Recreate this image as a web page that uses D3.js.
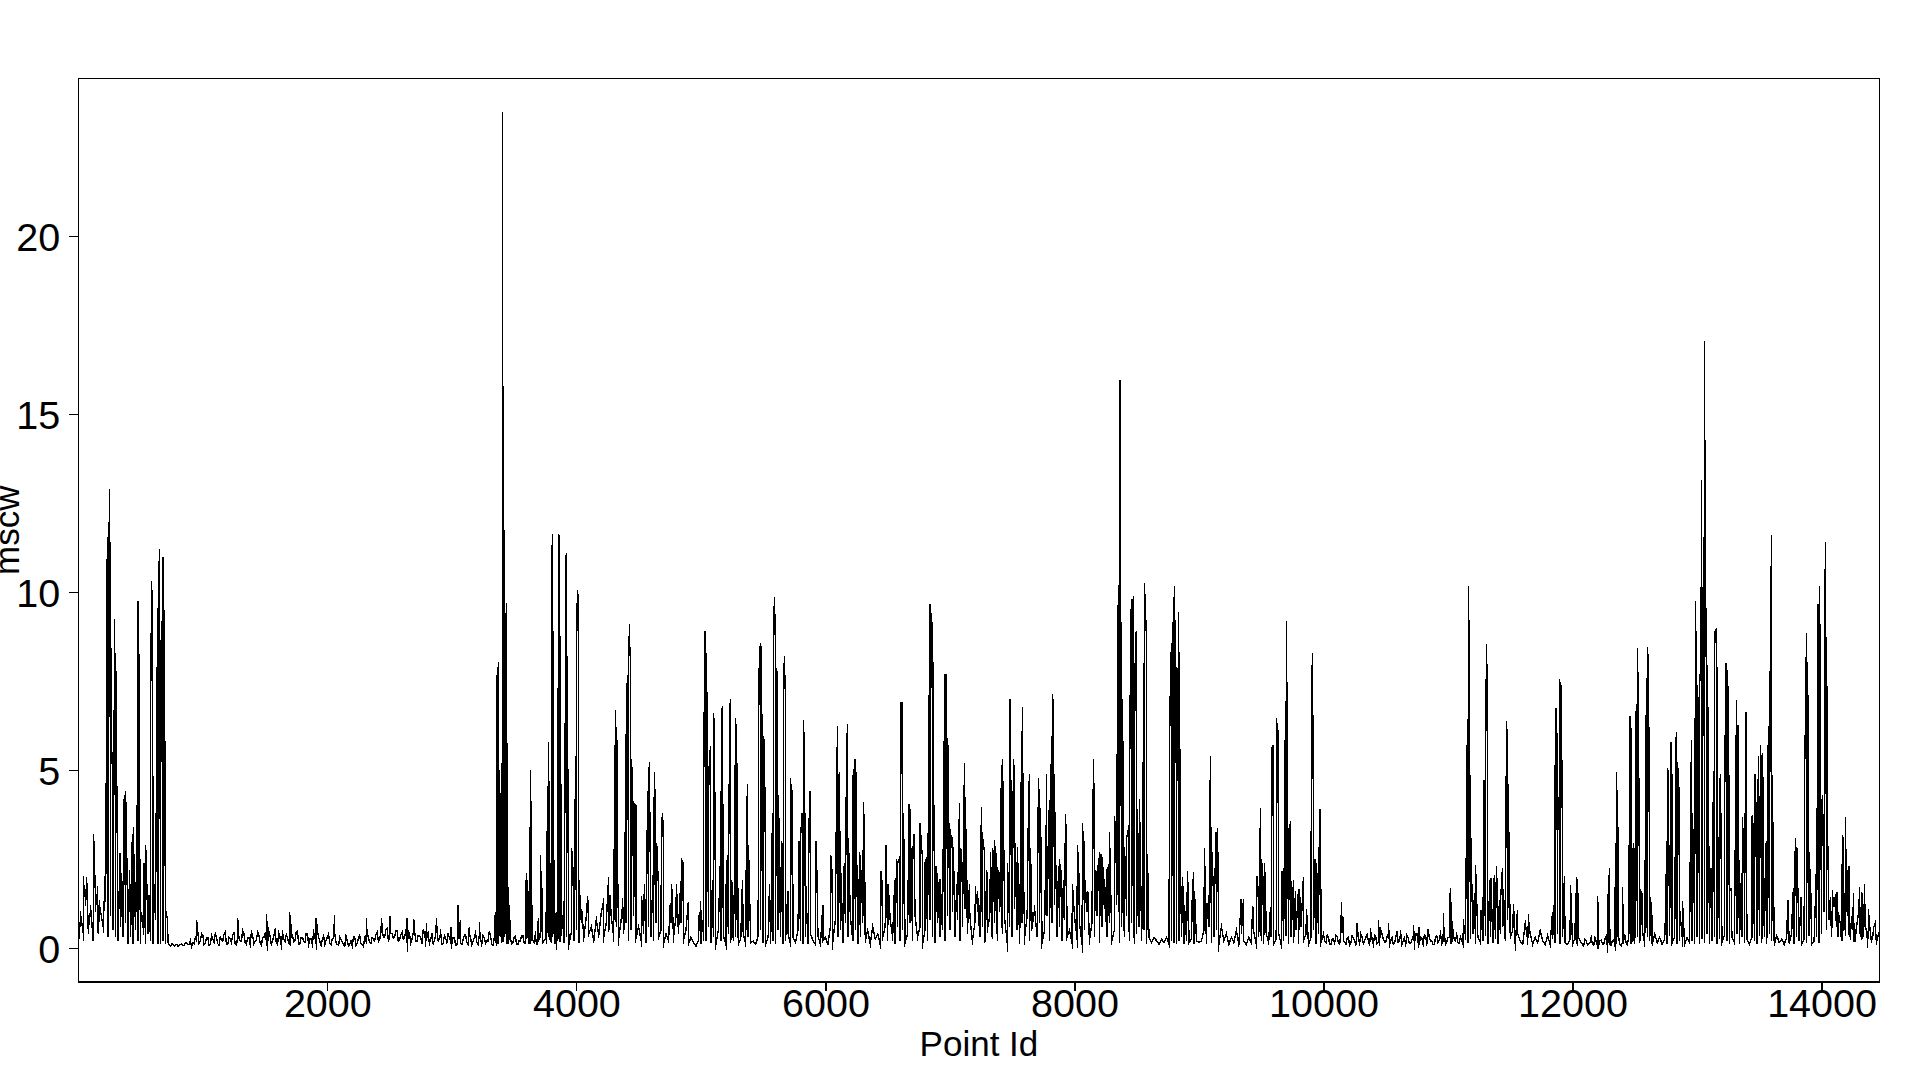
<!DOCTYPE html>
<html><head><meta charset="utf-8">
<script src="https://cdn.jsdelivr.net/npm/d3@7"></script>
<style>html,body{margin:0;background:#fff}svg{display:block}text{font-family:"Liberation Sans",Arial,sans-serif;fill:#000}</style>
</head><body><svg id="c" width="1920" height="1080"></svg>
<script>
const xTicks=[2000,4000,6000,8000,10000,12000,14000];
const yTicks=[0,5,10,15,20];
const xLabel="Point Id", yLabel="mscw";

// low-level signal, one reading every 20 point ids, one list per 1000 ids
const base0=[.1,.9,.4,1.3,.5,1.1,.2,1.2,.4,1,.6,1.3,.3,.9,.5,.3,.2,.6,.3,.7,.1,.3,.1,.5,.2,.1,.6,.1,.4,.2,.1,.8,.1,.1,.2,.1,.15,.05,.1,.08,.05,.1,.07,.15,.1,.2,.15,.3,.45,.2];
const base1=[.35,.15,.3,.1,.25,.4,.12,.3,.2,.45,.1,.25,.38,.12,.3,.2,.5,.15,.3,.1,.35,.2,.45,.15,.28,.4,.12,.33,.2,.5,.1,.3,.42,.18,.28,.1,.35,.2,.48,.12,.3,.15,.4,.25,.1,.32,.5,.18,.25,.1];
const base2=[.3,.12,.25,.4,.1,.3,.18,.05,.2,.1,.06,.3,.15,.35,.1,.28,.4,.15,.3,.2,.45,.22,.5,.3,.55,.25,.4,.3,.5,.22,.45,.3,.18,.4,.25,.5,.2,.35,.15,.45,.3,.12,.4,.2,.5,.25,.1,.35,.15,.3];
const base3=[.12,.3,.08,.25,.1,.35,.15,.4,.1,.28,.18,.35,.1,.3,.2,.45,.12,.25,.1,.35,.15,.3,.1,.22,.12,.3,.1,.2,.35,.15,.25,.1,.2,.15,.1,.25,.45,.2,.1,.3,.15,.4,.1,.25,.5,.15,.3,.1,.45,.2];
const base4=[.5,.15,.7,.3,.9,.4,.6,.2,.8,.35,1,.3,.7,.45,.9,.3,.6,.25,.8,.4,.7,.2,.5,.9,.3,.6,.2,.4,.15,.6,.3,.2,.7,.3,.5,.1,.4,.2,.7,.3,.9,.4,.7,.2,.5,.1,.3,.15,.05,.2];
const base5=[.1,.4,.2,.6,.15,.3,.1,.5,.2,.35,.1,.4,.15,.2,.3,.1,.25,.4,.1,.3,.15,.2,.1,.35,.5,.15,.1,.3,.1,.2,.1,.5,.3,.1,.2,.4,.1,.3,.15,.5,.2,.1,.3,.1,.4,.2,.1,.35,.1,.2];
const base6=[.3,.1,.6,.2,.8,.3,.5,.15,.7,.3,.9,.2,.5,.1,.3,.7,.2,.5,.1,.6,.25,.4,.1,.3,.6,.2,.8,.3,.1,.6,.2,.5,.15,.4,.7,.2,.9,.3,.6,.1,.5,.2,.8,.3,.15,.7,.3,.5,.2,.9];
const base7=[.5,1,.3,.8,.2,.6,1.1,.4,.9,.2,.7,1.2,.3,.6,.15,.5,.9,.25,.7,.2,1,.4,.8,.15,.6,.3,1.1,.5,.1,.7,.3,.9,.2,.6,1.1,.3,.7,.15,.5,.9,.2,.7,1.2,.3,.6,.2,.8,.3,.5,.15];
const base8=[.9,.3,.7,.15,.5,1,.2,.7,.3,.9,.15,.6,1.1,.3,.7,.2,.5,1.2,.15,.6,.3,.9,.2,.7,.1,.4,.6,.2,.5,.1,.3,.15,.3,.2,.1,.25,.15,.3,.1,.2,.15,.1,.2,.3,.1,.2,.15,.25,.1,.2];
const base9=[.15,.2,.5,.1,.6,.15,.3,.5,.1,.6,.2,.4,.1,.3,.15,.5,.1,.4,.2,.1,.3,.15,.45,.1,.3,.2,.1,.4,.15,.3,.1,.25,.4,.1,.2,.35,.1,.3,.15,.5,.1,.6,.2,.4,.1,.3,.5,.1,.4,.15];
const base10=[.4,.15,.3,.1,.25,.35,.15,.45,.2,.1,.3,.15,.28,.1,.25,.4,.12,.3,.2,.45,.1,.3,.15,.5,.25,.15,.38,.2,.1,.3,.15,.42,.2,.1,.3,.12,.25,.4,.15,.3,.1,.35,.5,.2,.1,.3,.15,.4,.2,.1];
const base11=[.3,.12,.4,.2,.15,.3,.1,.35,.15,.25,.4,.1,.3,.15,.2,.35,.1,.3,.15,.25,.1,.4,.6,.2,.8,.3,.5,.1,.4,.2,.1,.7,.2,.4,.1,.3,.15,.5,.2,.1,.35,.1,.25,.15,.4,.1,.3,.15,.1,.25];
const base12=[.1,.3,.05,.2,.1,.25,.08,.15,.1,.3,.05,.2,.12,.25,.05,.1,.2,.08,.3,.1,.15,.35,.1,.4,.2,.1,.3,.15,.5,.1,.3,.2,.1,.4,.15,.3,.1,.25,.1,.35,.15,.3,.1,.2,.35,.1,.3,.15,.2,.1];
const base13=[.3,.1,.25,.15,.4,.1,.2,.3,.1,.25,.15,.35,.2,.1,.3,.15,.4,.1,.3,.15,.25,.1,.3,.2,.1,.35,.15,.3,.1,.4,.2,.1,.35,.15,.25,.1,.3,.15,.4,.1,.3,.2,.1,.25,.15,.35,.1,.2,.3,.15];
const base14=[.4,1,.5,.8,.3,1.2,.6,.9,.2,.7,1,.4,.8,.2,.6,1.1,.3,.7,.5,.9,.2,.6,.15,.45];
const baseLists=[base0,base1,base2,base3,base4,base5,base6,base7,base8,base9,base10,base11,base12,base13,base14];

// extra in-between readings in the quiet stretches: [first id, values every 20 ids]
const quietA=[.08,.12,.05,.1,.06,.12,.08,.15,.1,.05,.12,.22,.12,.4,.1,.28,.08,.35,.15,.3,.08,.22,.38,.1,.3,.15,.42,.08,.28,.18,.4,.1,.3,.45,.12,.22,.36,.08,.3,.2,.48,.1,.33,.15,.42,.08,.26,.38,.12,.3,.18,.46,.1,.3,.2,.4,.1,.25,.45,.12,.3,.08,.35,.22,.4,.1,.3,.15,.08,.24,.1,.35,.06,.2,.32,.08,.28,.12,.05,.2,.3,.12,.24,.38,.18,.45,.3,.52,.2,.42,.28,.5,.18,.38,.24,.48,.3,.15,.42,.2,.36,.28,.5,.16,.4,.25,.12,.38,.2,.44,.12,.28,.4,.18,.3,.08,.32,.15,.24,.38,.1,.28,.18,.42,.1,.26,.34,.12,.2,.36,.08,.22,.1,.3,.16,.4,.12,.26,.15,.34,.1,.2,.36,.14,.28,.1,.22,.38,.12,.3,.15,.25,.42,.16,.3,.1,.4,.18];
const quietB=[.2,.36,.1,.26,.14,.32,.1,.42,.18,.28,.08,.34,.2,.46,.12,.3,.2,.38,.1,.26,.36,.12,.22,.4,.18,.32,.08,.3,.14,.44,.2,.1,.28,.36,.12,.24,.1,.4,.16,.26,.38,.12,.3,.2,.1,.34,.22,.12,.42,.16,.3,.1,.24,.38,.14];
const quietC=[.2,.1,.28,.14,.06,.2,.12,.3,.08,.18,.06,.22,.1,.32,.14,.08,.24,.12,.3,.06,.2,.14,.28,.1,.22];
const quietD=[.3,.7,.2,.5,.9,.3,.6,.2,.8,.4,.25,.6,.15,.5,.3,.7];
const quietStarts=[730,10010,12010,14130];
const quietLists=[quietA,quietB,quietC,quietD];

// individual spikes as [point id, mscw]
const spikesA=[[40,1.9],[67,2],[123,3.2],[155,1.6],[171,1.2],[217,2.1],[233,11.56],[241,10.2],[252,12.9],[260,8.85],[270,5.2],[278,5.2],[292,9.24],[300,8.3],[335,2.66],[348,2.1],[369,4.3],[380,4.4],[388,2.9],[412,2.2],[434,3.2],[442,3.4],[450,1.8],[474,4.25],[479,9.76],[485,8.9],[495,1.8],[503,1],[527,2.4],[541,2.9],[551,1.7],[568,1.5],[581,6.9],[589,10.3],[597,8.9],[605,1.9],[637,9.55],[645,10.4],[653,11.2],[661,6.8],[669,9.2],[680,11],[685,10],[693,7.7],[701,1.07],[717,.8]];
const spikesB=[[950,.8],[1280,.85],[1512,.95],[1700,.9],[1705,.85],[1910,.85],[2059,.93],[2315,.6],[2436,.85],[2502,.9],[2640,.85],[2697,.8],[2797,.7],[2878,.85],[2993,.6],[3050,1.2],[3068,.8],[3138,.5],[3223,.5]];
const spikesC=[[3349,1],[3360,6.2],[3365,7.9],[3373,8.05],[3381,5],[3397,4.7],[3404,.3],[3406,23.5],[3409,.4],[3412,15.8],[3419,10.35],[3427,9.4],[3437,9.7],[3443,5.75],[3451,1.7],[3462,1.2],[3590,1.9],[3601,2.1],[3614,1.6],[3625,3.4],[3630,5],[3638,3.3],[3646,1.2],[3694,.85],[3713,2.6],[3721,2],[3753,1],[3767,3.9],[3775,5.8],[3783,4.7],[3793,2.4],[3802,10.1],[3807,11.64],[3815,8.9],[3826,1.2],[3839,1],[3850,2.6],[3858,11.64],[3863,11.6],[3868,7.96],[3879,4.6],[3890,.8],[3909,4.7],[3914,10.65],[3919,11.1],[3927,8.2],[3935,2.2],[3962,2.8],[3973,2.2],[3994,5.4],[4002,8.5],[4008,10],[4016,9.9],[4021,1.9],[4042,1.1],[4091,1.45],[4216,1.27],[4259,2],[4270,1.5],[4305,3.5],[4315,6.7],[4324,6.2],[4332,1.96],[4372,1.25],[4390,1.6],[4396,6],[4404,7.35],[4412,7.55],[4420,8.5],[4425,8.8],[4433,8.15],[4441,5.3],[4452,4.7],[4468,4.05],[4479,4],[4524,1.45],[4546,1.8],[4572,4.4],[4581,5],[4586,5.1],[4615,2.05],[4626,4.95],[4634,3.95],[4645,2.95],[4658,1.8],[4682,2.4],[4690,3.8],[4698,3.4],[4754,1.25],[4765,1.8],[4803,1.8],[4832,1.55],[4843,2.5],[4856,2.4],[4899,1.3],[4987,1],[5001,1],[5020,3.4],[5028,7.25]];
const spikesD=[[5034,8.9],[5042,8.3],[5053,6.1],[5061,4.15],[5069,5.5],[5077,5.6],[5093,1.9],[5101,6.6],[5109,6.2],[5114,2.9],[5154,2.3],[5165,6.7],[5173,6.75],[5200,1.5],[5213,2.6],[5222,2.2],[5232,6.65],[5237,7],[5248,1.9],[5270,1.9],[5278,6.45],[5286,6.3],[5334,1.9],[5366,3.3],[5374,4.6],[5382,2.9],[5462,5.8],[5470,8.4],[5478,8.5],[5486,8.5],[5502,5.9],[5510,5.8],[5518,2.7],[5551,1.8],[5575,3.8],[5583,9],[5591,9.86],[5599,8.4],[5607,7.8],[5615,7.7],[5623,4.3],[5647,3],[5658,2.3],[5663,7.86],[5671,8.05],[5679,7.07],[5698,1.6],[5725,4.55],[5735,4.35],[5789,3],[5800,3.1],[5813,3.8],[5824,6.4],[5832,5.4],[5840,2],[5869,3.55],[5877,4.4],[5923,3],[5931,2.2],[5979,1.2],[6043,2.6],[6052,2.2],[6089,4.1],[6097,6.25],[6105,4.85],[6113,4.9],[6122,2.3],[6145,2.05],[6153,2.4],[6169,5.2],[6177,6.3],[6185,3.1],[6220,4.8],[6231,5],[6236,5.3],[6244,5],[6252,2.4],[6276,2.7],[6288,2.2],[6306,4.1],[6314,2.95],[6445,2.15],[6452,2.15],[6485,2.9],[6504,1.8],[6557,1.9],[6571,2.5],[6581,2.4],[6597,2.55],[6608,6.9],[6619,6.9],[6627,3.8],[6672,4.05],[6680,3.9],[6702,2.65],[6710,3.2],[6761,3.5],[6771,2.85],[6779,2.6],[6800,2.4],[6811,2.5],[6830,5.65],[6836,8.1]];
const spikesE=[[6841,9.67],[6849,9.3],[6857,9.1],[6865,8.05],[6870,4.25],[6889,2.3],[6900,2.1],[6921,1.95],[6959,7.7],[6967,7.7],[6975,5.9],[6983,5.7],[6991,3.2],[7002,3.27],[7010,3.1],[7018,3.1],[7028,2.85],[7055,1.8],[7066,2.05],[7077,4.07],[7087,2.8],[7098,2.3],[7117,5.2],[7122,4.25],[7135,2.1],[7157,1.8],[7205,1.6],[7221,1.6],[7253,3.95],[7264,3.05],[7277,2.7],[7296,2.2],[7326,2.7],[7344,2.8],[7363,2.8],[7376,2.5],[7387,2.2],[7414,5.15],[7422,5.3],[7430,3.45],[7462,2.4],[7483,7],[7491,3.9],[7499,3.55],[7510,5.3],[7518,4.9],[7526,2.95],[7542,2.85],[7569,3.55],[7577,6.1],[7582,6.77],[7590,2.2],[7633,4.6],[7639,4.75],[7647,2.8],[7711,4.77],[7719,3.9],[7727,3.93],[7773,3.35],[7776,4.9],[7799,4.16],[7810,4.6],[7818,5.95],[7823,7.05],[7831,6.93],[7840,4.2],[7848,2.85],[7872,2.3],[7885,2.3],[7898,2.05],[7917,1.9],[7928,3.77],[7936,2.9],[7984,1.8],[8024,2.9],[8035,2.1],[8067,3.3],[8075,3.1],[8086,1.9],[8107,1.6],[8153,5.3],[8158,3.93],[8169,2.2],[8180,2.1],[8198,2.5],[8212,2.65],[8225,2.55],[8241,1.95],[8260,2.2],[8273,2.3],[8281,3.27],[8321,3.7],[8332,3.27],[8345,7.3],[8353,10.2],[8360,3],[8367,15.97],[8370,4],[8375,9.17],[8386,7],[8394,2.85],[8402,2.85],[8420,3.1],[8437,3.4],[8445,6],[8453,9.2],[8458,9.8],[8466,9.6],[8474,9.9],[8482,5.5],[8490,8.85],[8498,8.87],[8506,3.9],[8522,4.2],[8549,3.4],[8557,8],[8562,10.25],[8570,9.5],[8578,8.75],[8587,2.65],[8595,.7]];
const spikesF=[[8763,5.5],[8771,7.6],[8779,8.57],[8787,6.97],[8795,9.86],[8803,10.18],[8809,8.24],[8813,5.2],[8817,7.9],[8821,4.8],[8825,7.35],[8830,4.7],[8835,9.44],[8843,8.33],[8849,3],[8868,1.8],[8876,1.55],[8884,1.2],[8908,2.15],[8916,1.07],[8948,1.8],[8956,2],[8964,1.6],[9044,2.8],[9052,1.4],[9063,1.27],[9092,5.4],[9100,2.97],[9116,1.6],[9127,1.77],[9138,3.27],[9149,3.36],[9339,1.37],[9357,1.37],[9432,1.18],[9464,2],[9470,2],[9478,1.2],[9494,3.93],[9502,2.5],[9513,2],[9526,2.4],[9534,1.6],[9574,1.16],[9582,5.57],[9593,5.68],[9599,1.9],[9628,6.24],[9638,6],[9668,2.15],[9695,6.93],[9703,9.2],[9711,3.5],[9724,3.36],[9735,3.5],[9759,1.9],[9775,1.6],[9799,1.65],[9807,1.65],[9839,2],[9863,1.1],[9903,6.6],[9911,8.3],[9919,3.88],[9933,2.5],[9944,2.4],[9968,3.9],[9976,3.9],[10144,1.28],[10155,.9],[10270,.7],[10441,.8]];
const spikesG=[[10522,.7],[10723,.65],[10768,.6],[10964,.7],[11012,1.54],[11020,1.68],[11036,.75],[11124,.7],[11148,3.18],[11156,6.43],[11164,10.16],[11172,7.63],[11180,3.6],[11207,1.25],[11215,1.46],[11221,2.33],[11264,1.07],[11290,4.72],[11301,4.96],[11309,8.55],[11317,6.83],[11336,1.9],[11344,1.96],[11368,1.8],[11373,2.05],[11389,2.3],[11397,1.4],[11413,1.35],[11421,1.3],[11437,2.24],[11445,1.65],[11470,6.38],[11478,5.5],[11483,4.6],[11526,1.24],[11558,1.08],[11646,.8],[11839,1],[11855,1.35],[11860,4.86],[11866,6.75],[11874,6.03],[11882,3.5],[11893,4.25],[11901,7.44],[11909,7.35],[11917,3.93],[11935,2.03],[11984,1.77],[12025,1.54],[12032,2],[12040,1.93],[12200,1.46],[12208,1],[12289,2.05],[12297,2.24],[12345,2.94],[12353,4.94],[12361,4.44],[12369,1.3],[12401,1.7],[12457,3.76]];
const spikesH=[[12463,6.52],[12471,6.18],[12490,2.94],[12508,6.5],[12516,6.86],[12522,8.43],[12530,6.13],[12549,1.6],[12557,1.55],[12586,3.93],[12594,7.58],[12602,8.33],[12610,8.14],[12618,2.15],[12626,1.42],[12637,.9],[12747,1],[12757,3],[12765,5.05],[12774,2.66],[12782,1.54],[12790,5.8],[12798,4.8],[12822,1],[12830,5.78],[12835,6.08],[12843,5.24],[12854,4.5],[12862,1.02],[12883,1.32],[12947,3.3],[12955,5.85],[12961,3.8],[12974,2.57],[12988,9.76],[12996,6.4],[13004,7.4],[13012,6.03],[13020,7.35],[13031,8.07],[13037,13.14],[13045,9],[13055,11.55],[13060,17.05],[13065,11.05],[13073,8.8],[13084,7.96],[13105,2.2],[13119,2.24],[13132,4.96],[13140,8.85],[13151,8.94],[13159,7.86],[13170,3.13],[13180,4.4],[13188,4.9],[13223,4.68],[13231,8.02],[13242,7.8],[13253,6.86],[13261,1.68],[13274,1.68],[13317,6.97],[13328,6.27],[13357,2.1],[13368,3.36],[13378,3],[13392,6.62],[13397,6],[13443,3.74],[13454,3.2],[13467,4.9],[13472,4.1],[13483,2.8],[13494,5.4],[13510,5.7],[13518,4.6],[13526,5.47],[13534,2.9],[13555,2.94],[13566,5.15],[13577,6.24],[13587,7.58],[13598,11.6],[13604,4.86],[13729,1.35],[13769,1.58],[13780,1.63],[13791,3.08],[13801,2.83],[13836,1.44],[13863,4.8],[13871,6.46],[13879,8.85],[13887,8.05],[13895,5.1],[13903,1.93],[13911,2.1],[13959,2.3],[13973,9.67],[13984,10.16],[13992,5.4],[14000,3.65],[14008,4.3],[14026,9.74],[14032,11.4],[14040,8.75],[14048,3.3],[14071,1.44],[14090,1.44],[14108,1.4],[14125,1.58],[14168,3.18],[14176,3.13],[14192,3.67],[14200,2.66],[14219,2.3],[14257,1.54],[14305,1.7],[14323,1.58],[14345,1.8]];
const spikeLists=[spikesA,spikesB,spikesC,spikesD,spikesE,spikesF,spikesG,spikesH];

const L=78.3,R=1879.6,T=78.6,B=982;
const x=d3.scaleLinear().domain([0,14466]).range([L,R]);
const y=d3.scaleLinear().domain([-0.955,24.43]).range([B,T]);

const rows=[];
baseLists.forEach((list,k)=>list.forEach((v,i)=>rows.push([k*1000+i*20,v])));
quietLists.forEach((list,k)=>list.forEach((v,i)=>rows.push([quietStarts[k]+i*20,v])));
spikeLists.forEach(list=>list.forEach(p=>rows.push(p)));
rows.sort((a,b)=>a[0]-b[0]);

const svg=d3.select("#c");
svg.append("path").datum(rows)
  .attr("fill","none").attr("stroke","#000").attr("stroke-width",1.4)
  .attr("stroke-linejoin","miter").attr("stroke-miterlimit",20)
  .attr("shape-rendering","crispEdges")
  .attr("d",d3.line().x(d=>x(d[0])).y(d=>y(d[1])));

svg.append("rect").attr("x",L).attr("y",T).attr("width",R-L).attr("height",B-T)
  .attr("fill","none").attr("stroke","#000").attr("stroke-width",1.3).attr("shape-rendering","crispEdges");

const gx=svg.append("g").attr("transform",`translate(0,${B})`)
  .call(d3.axisBottom(x).tickValues(xTicks).tickSize(9).tickPadding(0).tickFormat(d3.format("d")));
const gy=svg.append("g").attr("transform",`translate(${L},0)`)
  .call(d3.axisLeft(y).tickValues(yTicks).tickSize(9).tickPadding(9).tickFormat(d3.format("d")));
[gx,gy].forEach(g=>{g.select(".domain").remove();
  g.selectAll(".tick line").attr("stroke","#000").attr("stroke-width",1.2).attr("shape-rendering","crispEdges");
  g.selectAll("text").attr("font-size",39.5).attr("font-family",'"Liberation Sans",Arial,sans-serif').attr("fill","#000");});
gx.selectAll("text").attr("y",0).attr("dy",0).attr("transform","translate(0,35)");
gy.selectAll("text").attr("dy","0.36em");

svg.append("text").attr("x",(L+R)/2).attr("y",1056).attr("text-anchor","middle").attr("font-size",35).text(xLabel);
svg.append("text").attr("transform",`translate(19,${(T+B)/2}) rotate(-90)`).attr("text-anchor","middle").attr("font-size",35).text(yLabel);
</script></body></html>
